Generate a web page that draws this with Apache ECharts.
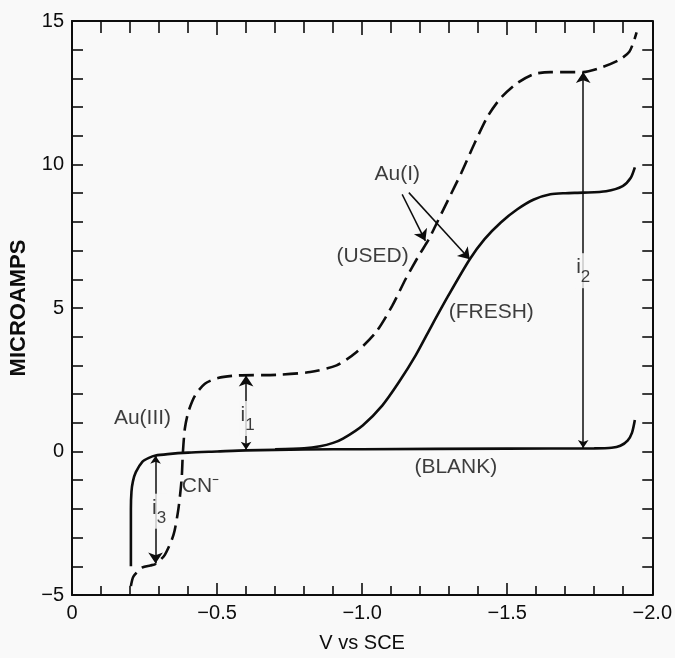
<!DOCTYPE html>
<html>
<head>
<meta charset="utf-8">
<script src="https://cdn.jsdelivr.net/npm/echarts@6/dist/echarts.min.js"></script>
<style>
html,body{margin:0;padding:0;background:#f9f9f9;}
#chart{width:675px;height:658px;}
</style>
</head>
<body>
<div id="chart"></div>
<script>
// ---- data (V vs SCE, microamps) ----
const blankCurve = [[-0.203,-4.0],[-0.203,-2.0],[-0.205,-1.4],[-0.21,-1.04],[-0.22,-0.72],[-0.243,-0.35],[-0.265,-0.22],[-0.288,-0.14],[-0.33,-0.09],[-0.4,-0.04],[-0.5,0.0],[-0.6,0.04],[-0.8,0.07],[-1.0,0.08],[-1.5,0.1],[-1.8,0.11],[-1.86,0.13],[-1.89,0.2],[-1.915,0.38],[-1.93,0.65],[-1.94,1.1]];
const freshCurve = [[-0.7,0.08],[-0.8,0.11],[-0.855,0.18],[-0.9,0.3],[-0.934,0.45],[-1.002,0.91],[-1.07,1.61],[-1.127,2.42],[-1.184,3.34],[-1.24,4.39],[-1.297,5.43],[-1.371,6.70],[-1.422,7.40],[-1.478,7.98],[-1.535,8.44],[-1.592,8.78],[-1.649,8.96],[-1.70,9.0],[-1.762,9.02],[-1.841,9.07],[-1.898,9.25],[-1.926,9.54],[-1.940,9.9]];
const usedCurve = [[-0.203,-4.69],[-0.212,-4.35],[-0.243,-4.04],[-0.27,-3.97],[-0.288,-3.92],[-0.32,-3.6],[-0.35,-2.9],[-0.367,-1.98],[-0.378,-0.94],[-0.382,-0.07],[-0.389,0.8],[-0.401,1.38],[-0.424,1.95],[-0.458,2.36],[-0.503,2.56],[-0.571,2.65],[-0.707,2.67],[-0.821,2.77],[-0.912,3.0],[-0.98,3.46],[-1.048,4.16],[-1.104,5.08],[-1.15,6.01],[-1.195,6.82],[-1.229,7.38],[-1.252,7.85],[-1.297,8.78],[-1.342,9.71],[-1.388,10.75],[-1.433,11.68],[-1.478,12.32],[-1.535,12.84],[-1.592,13.15],[-1.649,13.22],[-1.762,13.22],[-1.819,13.36],[-1.887,13.65],[-1.921,13.93],[-1.938,14.34],[-1.946,14.6]];

// double-headed measurement arrows
const i1Arrow = [[-0.6,0.06],[-0.6,2.65]];
const i2Arrow = [[-1.762,0.12],[-1.762,13.22]];
const i3Arrow = [[-0.288,-0.15],[-0.288,-3.9]];
// Au(I) pointer arrows
const auIArrowUsed = [[-1.138,8.96],[-1.218,7.34]];
const auIArrowFresh = [[-1.161,9.02],[-1.371,6.70]];

// text annotations
const annoText = ['Au(I)','(USED)','(FRESH)','(BLANK)','Au(III)','CN⁻'];
const annoX = [-1.121,-1.036,-1.445,-1.323,-0.243,-0.443];
const annoY = [9.65,6.82,4.85,-0.56,1.15,-1.22];
const subLabels = ['1','2','3'];
const subX = [-0.605,-1.762,-0.300];
const subY = [1.15,6.3,-2.08];

// axis ticks
const xMin = -2.0, xMax = 0, xStep = 0.5;
const yMin = -5, yMax = 15, yStep = 5;

const FONT = 'Liberation Sans';
const INK = '#0d0d0d';
const BG = '#f9f9f9';

const chart = echarts.init(document.getElementById('chart'), null, {renderer:'canvas'});

function xFmt(v){ return v === 0 ? '0' : '\u2212' + Math.abs(v).toFixed(1); }
function yFmt(v){ return v < 0 ? '\u2212' + Math.abs(v) : String(v); }

const axisLineStyle = {color: INK, width: 2};

const option = {
  backgroundColor: BG,
  animation: false,
  grid: {left: 72, top: 21, width: 588, height: 576},
  xAxis: [
    {
      type: 'value', min: xMin, max: xMax, interval: xStep, inverse: true, position: 'bottom',
      name: 'V vs SCE', nameLocation: 'middle', nameGap: 38,
      nameTextStyle: {fontFamily: FONT, fontSize: 20, color: INK},
      axisLine: {show: true, onZero: false, lineStyle: axisLineStyle},
      axisTick: {show: true, inside: true, length: 12, lineStyle: {color: INK, width: 1.6}},
      minorTick: {show: true, splitNumber: 5, length: 9, lineStyle: {color: INK, width: 1.6}},
      axisLabel: {formatter: xFmt, fontFamily: FONT, fontSize: 20, color: INK, margin: 8},
      splitLine: {show: false}
    },
    {
      type: 'value', min: xMin, max: xMax, interval: xStep, inverse: true, position: 'top',
      axisLine: {show: true, onZero: false, lineStyle: axisLineStyle},
      axisTick: {show: true, inside: true, length: 14, lineStyle: {color: INK, width: 1.6}},
      minorTick: {show: true, splitNumber: 5, length: 12, lineStyle: {color: INK, width: 1.6}},
      axisLabel: {show: false},
      splitLine: {show: false}
    }
  ],
  yAxis: [
    {
      type: 'value', min: yMin, max: yMax, interval: yStep, position: 'left',
      name: 'MICROAMPS', nameLocation: 'middle', nameGap: 40, nameRotate: 90,
      nameTextStyle: {fontFamily: FONT, fontSize: 22, fontWeight: 'bold', color: INK},
      axisLine: {show: true, onZero: false, lineStyle: axisLineStyle},
      axisTick: {show: true, inside: true, length: 11, lineStyle: {color: INK, width: 1.6}},
      minorTick: {show: true, splitNumber: 5, length: 11, lineStyle: {color: INK, width: 1.6}},
      axisLabel: {formatter: yFmt, fontFamily: FONT, fontSize: 20, color: INK, margin: 8},
      splitLine: {show: false}
    },
    {
      type: 'value', min: yMin, max: yMax, interval: yStep, position: 'right',
      axisLine: {show: true, onZero: false, lineStyle: axisLineStyle},
      axisTick: {show: true, inside: true, length: 10, lineStyle: {color: INK, width: 1.6}},
      minorTick: {show: true, splitNumber: 5, length: 10, lineStyle: {color: INK, width: 1.6}},
      axisLabel: {show: false},
      splitLine: {show: false}
    }
  ],
  series: [
    {
      name: 'BLANK', type: 'line', data: blankCurve, showSymbol: false, smooth: 0.25,
      lineStyle: {color: INK, width: 2.6}, z: 3
    },
    {
      name: 'FRESH', type: 'line', data: freshCurve, showSymbol: false, smooth: 0.25,
      lineStyle: {color: INK, width: 2.6}, z: 3
    },
    {
      name: 'USED', type: 'line', data: usedCurve, showSymbol: false, smooth: 0.25,
      lineStyle: {color: INK, width: 2.6, type: [15, 7]}, z: 3
    },
    {
      name: 'measure', type: 'lines', coordinateSystem: 'cartesian2d',
      symbol: ['arrow','arrow'], symbolSize: [8, 11],
      lineStyle: {color: INK, width: 1.5, opacity: 1},
      data: [{coords: i1Arrow}, {coords: i2Arrow}, {coords: i3Arrow}], z: 4
    },
    {
      name: 'pointers', type: 'lines', coordinateSystem: 'cartesian2d',
      symbol: ['none','arrow'], symbolSize: [8, 11],
      lineStyle: {color: INK, width: 1.5, opacity: 1},
      data: [{coords: auIArrowUsed}, {coords: auIArrowFresh}], z: 4
    },
    {
      name: 'labels', type: 'scatter', symbolSize: 1, itemStyle: {color: 'rgba(0,0,0,0)'},
      data: annoText.map((t, k) => ({name: t, value: [annoX[k], annoY[k]]})),
      label: {show: true, position: 'inside', formatter: p => p.name,
        fontFamily: FONT, fontSize: 21, color: INK},
      silent: true, z: 5
    },
    {
      name: 'ilabels', type: 'scatter', symbolSize: 1, itemStyle: {color: 'rgba(0,0,0,0)'},
      data: subLabels.map((t, k) => ({name: t, value: [subX[k], subY[k]]})),
      label: {show: true, position: 'inside', formatter: p => '{i|i}{s|' + p.name + '}',
        backgroundColor: BG, padding: [4, 1, 2, 1],
        rich: {
          i: {fontFamily: FONT, fontSize: 21, color: INK, verticalAlign: 'top', padding: [0,0,8,0]},
          s: {fontFamily: FONT, fontSize: 17, color: INK, verticalAlign: 'bottom', padding: [8,0,0,0]}
        }},
      silent: true, z: 5
    }
  ]
};
chart.setOption(option);
</script>
</body>
</html>
